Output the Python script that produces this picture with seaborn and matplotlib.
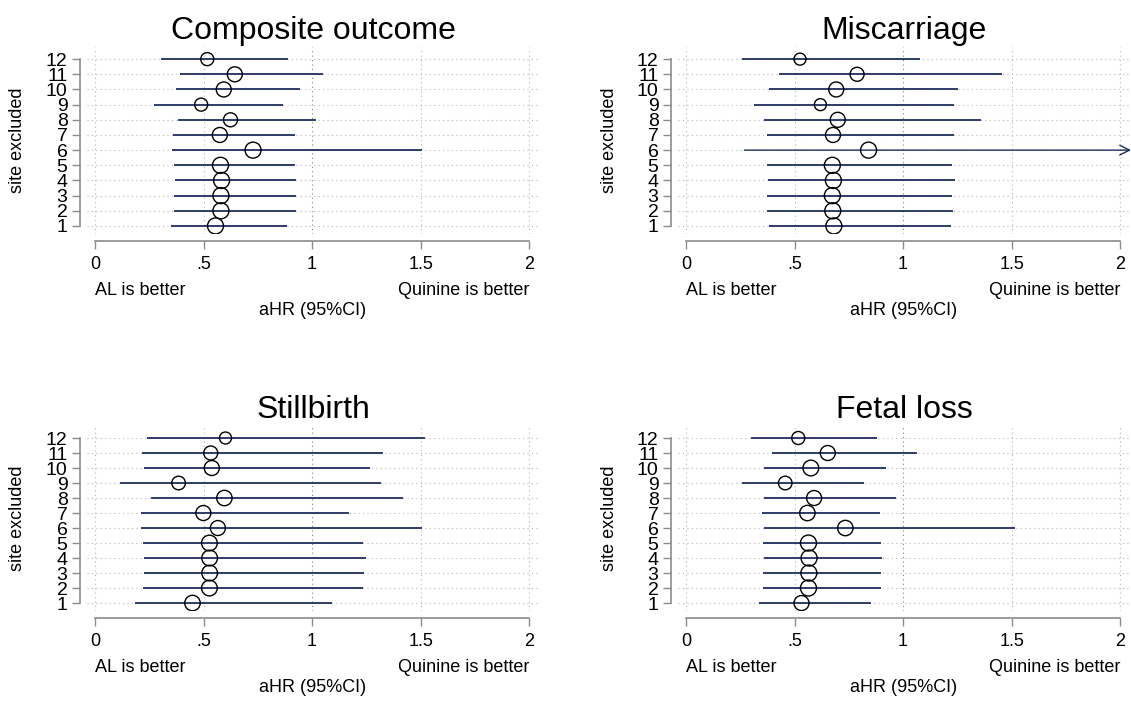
import numpy as np
import pandas as pd
import seaborn as sns
import matplotlib
matplotlib.use("Agg")
import matplotlib.pyplot as plt

# site excluded (rows)
sites = list(range(1, 13))

# Composite outcome
comp_est = [0.555, 0.580, 0.580, 0.583, 0.578, 0.728, 0.575, 0.624, 0.489, 0.593, 0.644, 0.517]
comp_lo = [0.352, 0.362, 0.362, 0.367, 0.362, 0.353, 0.358, 0.381, 0.271, 0.373, 0.393, 0.306]
comp_hi = [0.884, 0.925, 0.925, 0.927, 0.922, 1.508, 0.920, 1.019, 0.865, 0.946, 1.050, 0.889]
comp_w = [16, 16, 16, 16, 16, 16, 15, 14, 13, 15, 15, 13]

# Miscarriage (row 6 upper limit runs off the axis -> arrow)
misc_est = [0.681, 0.676, 0.674, 0.679, 0.674, 0.841, 0.677, 0.699, 0.619, 0.692, 0.788, 0.525]
misc_lo = [0.381, 0.373, 0.373, 0.376, 0.373, 0.269, 0.374, 0.358, 0.311, 0.381, 0.428, 0.259]
misc_hi = [1.220, 1.228, 1.227, 1.237, 1.227, 2.05, 1.233, 1.360, 1.235, 1.253, 1.455, 1.078]
misc_w = [16, 16, 16, 16, 16, 16, 15, 15, 12, 15, 14, 12]

# Stillbirth
still_est = [0.449, 0.527, 0.528, 0.528, 0.527, 0.566, 0.499, 0.596, 0.385, 0.538, 0.533, 0.601]
still_lo = [0.185, 0.223, 0.225, 0.225, 0.223, 0.213, 0.213, 0.256, 0.114, 0.225, 0.215, 0.241]
still_hi = [1.093, 1.235, 1.240, 1.247, 1.235, 1.508, 1.169, 1.417, 1.316, 1.267, 1.325, 1.518]
still_w = [15.5, 15.7, 15.7, 15.7, 15.7, 15, 15, 15.4, 13.6, 15, 14, 12]

# Fetal loss
fetal_est = [0.532, 0.564, 0.566, 0.567, 0.564, 0.734, 0.559, 0.590, 0.457, 0.575, 0.653, 0.517]
fetal_lo = [0.334, 0.355, 0.355, 0.357, 0.355, 0.357, 0.352, 0.361, 0.258, 0.361, 0.397, 0.300]
fetal_hi = [0.852, 0.899, 0.900, 0.903, 0.898, 1.517, 0.893, 0.968, 0.822, 0.921, 1.065, 0.878]
fetal_w = [15, 16, 16, 16, 16, 15.4, 15.4, 15, 13.6, 15.7, 15, 13]

titles = ["Composite outcome", "Miscarriage", "Stillbirth", "Fetal loss"]
xticks = [0, 0.5, 1, 1.5, 2]
xticklabels = ["0", ".5", "1", "1.5", "2"]

panels = [
    (comp_est, comp_lo, comp_hi, comp_w),
    (misc_est, misc_lo, misc_hi, misc_w),
    (still_est, still_lo, still_hi, still_w),
    (fetal_est, fetal_lo, fetal_hi, fetal_w),
]

sns.set_style("white")
plt.rcParams["font.family"] = ["Liberation Sans", "DejaVu Sans"]
plt.rcParams["text.color"] = "black"

W, H = 1131, 702
fig = plt.figure(figsize=(W / 100, H / 100), dpi=100)

# axes boxes in pixels: left, right, top, bottom
boxes = [(87, 540, 47, 234), (678, 1131, 47, 234),
         (87, 540, 426, 611), (678, 1131, 426, 611)]

navy = "#1f2d5c"
XMIN, XMAX = -0.037, 2.05

for (est, lo, hi, w), title, (l, r, t, b) in zip(panels, titles, boxes):
    ax = fig.add_axes([l / W, 1 - b / H, (r - l) / W, (b - t) / H])
    df = pd.DataFrame({"site": sites, "est": est, "lo": lo, "hi": hi, "w": w})

    # dotted grid
    for y in sites:
        ax.axhline(y, color="#b5b5b5", lw=0.8, ls=(0, (1, 3)), zorder=0)
    for x in xticks:
        ax.axvline(x, color="#808080" if x == 1 else "#b5b5b5", lw=0.8,
                   ls=(0, (1, 3)), zorder=0)

    # confidence intervals
    for _, row in df.iterrows():
        if row["hi"] > 2:
            ax.annotate("", xy=(XMAX, row["site"]), xytext=(row["lo"], row["site"]),
                        arrowprops=dict(arrowstyle="->, head_length=0.7, head_width=0.35",
                                        color=navy, lw=1.0, shrinkA=0, shrinkB=0),
                        zorder=2)
        else:
            ax.hlines(row["site"], row["lo"], row["hi"], color=navy, lw=1.3, zorder=2)

    # point estimates, hollow circles sized by weight
    sns.scatterplot(data=df, x="est", y="site", s=(df["w"] * 0.72) ** 2,
                    facecolors="none", edgecolor="black", linewidth=1.0,
                    legend=False, zorder=3, ax=ax)

    ax.set_xlim(XMIN, XMAX)
    ax.set_ylim(0.47, 12.8)
    ax.set_xticks(xticks)
    ax.set_xticklabels(xticklabels)
    ax.set_yticks(sites)
    ax.set_yticklabels([str(s) for s in sites])
    ax.tick_params(axis="both", labelsize=13, length=6, width=1.0,
                   color="#8c8c8c", labelcolor="black")
    ax.tick_params(axis="x", pad=5, bottom=True)
    ax.tick_params(axis="y", pad=3, left=True, labelsize=14)

    for side in ["top", "right"]:
        ax.spines[side].set_visible(False)
    for side in ["left", "bottom"]:
        ax.spines[side].set_color("#8c8c8c")
        ax.spines[side].set_linewidth(1.2)
        ax.spines[side].set_position(("outward", 5))
    ax.spines["left"].set_bounds(1, 12)
    ax.spines["bottom"].set_bounds(0, 2)

    ax.set_xlabel("")
    ax.set_ylabel("")
    ax.set_title(title, fontsize=23, pad=6, color="black")

    trans = ax.get_xaxis_transform()
    ax.annotate("AL is better", xy=(0, 0), xycoords=trans, xytext=(0, -57),
                textcoords="offset pixels", ha="left", va="center", fontsize=13)
    ax.annotate("Quinine is better", xy=(2, 0), xycoords=trans, xytext=(0, -57),
                textcoords="offset pixels", ha="right", va="center", fontsize=13)
    ax.annotate("aHR (95%CI)", xy=(1, 0), xycoords=trans, xytext=(0, -77),
                textcoords="offset pixels", ha="center", va="center", fontsize=13)
    ax.annotate("site excluded", xy=(0, 0.5), xycoords="axes fraction",
                xytext=(-69, 0), textcoords="offset pixels", ha="center",
                va="center", rotation=90, fontsize=13)

fig.savefig("out.png", dpi=100)
